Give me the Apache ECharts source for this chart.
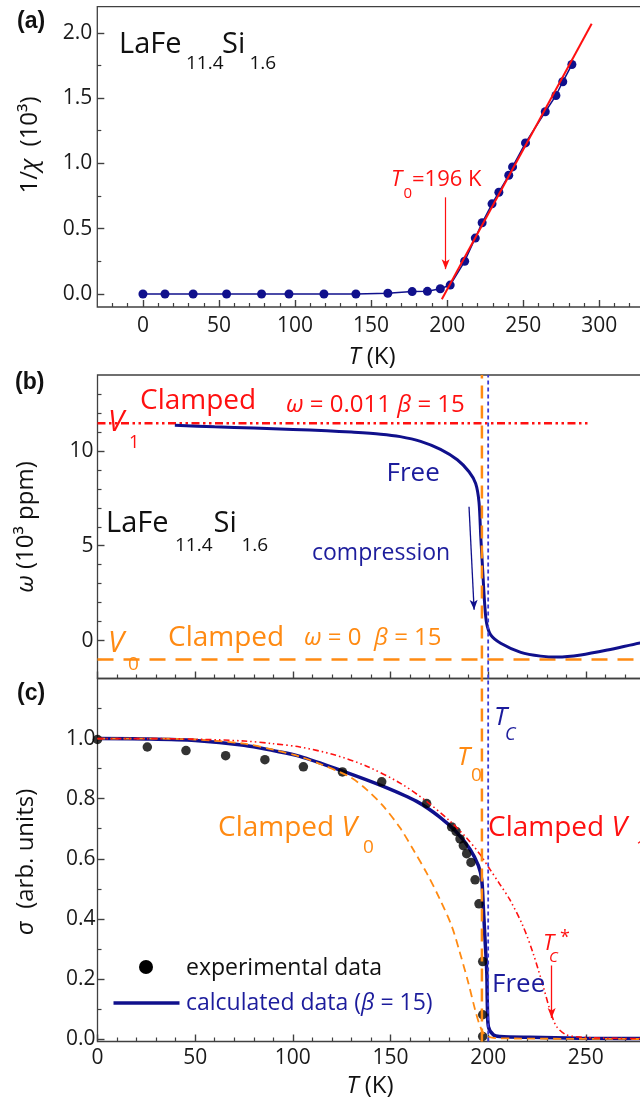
<!DOCTYPE html>
<html>
<head>
<meta charset="utf-8">
<title>LaFe11.4Si1.6</title>
<script src="https://cdn.jsdelivr.net/npm/echarts@6.0.0/dist/echarts.min.js"></script>
<style>
  html, body { margin: 0; padding: 0; background: #ffffff; }
  #chart { width: 640px; height: 1106px; }
</style>
</head>
<body>
<div id="chart"></div>
<script>
// ---------- (a) inverse susceptibility ----------
const chiTemp = [0, 14.5, 33, 55, 78, 96, 119, 140, 161, 177, 187, 195.5, 202, 211.5, 218.5, 223, 229.5, 234, 240.5, 243, 251.5, 264.5, 271.5, 276, 282];
const chiInv  = [0, 0, 0, 0, 0, 0, 0, 0, 0.005, 0.018, 0.02, 0.04, 0.068, 0.25, 0.428, 0.545, 0.69, 0.779, 0.909, 0.973, 1.157, 1.395, 1.52, 1.625, 1.757];
const fitTemp = [196.5, 295];
const fitInv  = [-0.04, 2.07];
const t0ArrowTemp = 199;
const t0ArrowInv  = [0.74, 0.19];

// ---------- (b) volume strain ----------
const omegaTemp = [39.6, 60, 80, 100, 117.4, 130, 145, 155, 165.4, 175.6, 184.2, 190.2, 193.6, 195.3, 196.2, 197.2, 198.2, 199.2, 201.3, 206.4, 216.7, 226.9, 235.5, 247.4, 261.1, 278, 290];
const omegaFree = [11.35, 11.27, 11.2, 11.13, 11.06, 10.99, 10.88, 10.75, 10.5, 10.08, 9.53, 8.9, 8.28, 7.3, 5.5, 3.7, 1.95, 0.92, 0.30, -0.14, -0.62, -0.82, -0.87, -0.76, -0.5, -0.12, 0.1];
const clampedV1Temp  = [0, 252];
const clampedV1Omega = [11.45, 11.45];
const clampedV0Temp  = [0, 300];
const clampedV0Omega = [-1.0, -1.0];
const compressionTemp  = [190.2, 192.8];
const compressionOmega = [7.05, 1.62];
const tZero = 196.8;
const tCurie = 200;

// ---------- (c) magnetisation ----------
const expTemp  = [0, 25.5, 45.3, 65.6, 85.7, 105.4, 125.4, 145.5, 168.5, 181.3, 183.6, 185.6, 187.3, 189, 191.2, 193.3, 195.3, 197.2, 197.2, 197.2];
const expSigma = [0.997, 0.972, 0.960, 0.943, 0.930, 0.906, 0.889, 0.856, 0.784, 0.706, 0.691, 0.666, 0.644, 0.617, 0.588, 0.530, 0.450, 0.258, 0.081, 0.009];
const calcTemp  = [0, 25, 50, 75, 90, 103.6, 125.9, 146.3, 163.4, 175.4, 183.9, 190.7, 195, 196.7, 197.5, 198.4, 199.3, 199.6, 200.1, 202.7, 206, 221.3, 246.9, 300];
const calcSigma = [1.0, 0.999, 0.994, 0.978, 0.960, 0.941, 0.891, 0.841, 0.791, 0.738, 0.688, 0.632, 0.577, 0.530, 0.442, 0.331, 0.220, 0.109, 0.042, 0.014, 0.009, 0.006, 0.003, 0.001];
const sigmaV0Temp  = [0, 25, 50, 75, 90, 103.6, 115, 129.3, 137.8, 146.3, 154.9, 161.7, 168.5, 175.4, 181.4, 185.6, 189.9, 193.3, 195.9, 198.4, 202.7, 213, 240, 300];
const sigmaV0      = [1.0, 1.0, 0.997, 0.983, 0.963, 0.940, 0.913, 0.872, 0.830, 0.775, 0.703, 0.630, 0.553, 0.464, 0.375, 0.286, 0.186, 0.098, 0.042, 0.014, 0.004, 0.002, 0.001, 0];
const sigmaV1Temp  = [0, 25, 50, 75, 90, 103.6, 120.7, 137.8, 154.9, 168.5, 180.5, 189, 195.9, 201, 206, 211.1, 217.9, 223, 228.2, 231.6, 235, 240.1, 246.9, 260, 300];
const sigmaV1      = [1.0, 1.0, 0.998, 0.992, 0.983, 0.972, 0.947, 0.908, 0.852, 0.791, 0.725, 0.669, 0.614, 0.564, 0.515, 0.464, 0.375, 0.286, 0.175, 0.098, 0.042, 0.014, 0.007, 0.003, 0.001];
const tcStarTemp  = 232.5;
const tcStarSigma = [0.245, 0.07];

// ---------- tick values ----------
const xMajorA = [0, 50, 100, 150, 200, 250, 300];
const xMinorA = [-20, -10, 10, 20, 30, 40, 60, 70, 80, 90, 110, 120, 130, 140, 160, 170, 180, 190, 210, 220, 230, 240, 260, 270, 280, 290, 310, 320];
const yMajorA = [0, 0.5, 1.0, 1.5, 2.0];
const yMinorA = [0.25, 0.75, 1.25, 1.75];
const xMajorBC = [0, 50, 100, 150, 200, 250, 300];
const xMinorBC = [10, 20, 30, 40, 60, 70, 80, 90, 110, 120, 130, 140, 160, 170, 180, 190, 210, 220, 230, 240, 260, 270, 280, 290];
const yMajorB = [0, 5, 10];
const yMinorB = [-1, 1, 2, 3, 4, 6, 7, 8, 9, 11, 12, 13];
const yMajorC = [0, 0.2, 0.4, 0.6, 0.8, 1.0];
const yMinorC = [0.1, 0.3, 0.5, 0.7, 0.9, 1.1];

const FONT = '"Open Sans", "Noto Sans", sans-serif';
const NAVY = '#10108c';
const NAVY_TEXT = '#1c1c9c';
const RED = '#ff1010';
const ORANGE = '#ff8a12';
const DOTBLUE = '#3a3ad4';
const AXIS = '#404040';
const SMOOTH = 0.3;

function pairs(xs, ys) { return xs.map((x, i) => [x, ys[i]]); }

function mainAxis(dim, grid, min, max, ticks, showLabels, margin, fmt) {
  return {
    type: 'value', gridIndex: grid, min: min, max: max,
    position: dim === 'x' ? 'bottom' : 'left', offset: 0,
    axisLine: { show: false, onZero: false }, splitLine: { show: false },
    axisTick: { show: true, inside: true, length: 7, customValues: ticks, lineStyle: { color: AXIS, width: 1.4 } },
    axisLabel: { show: showLabels, customValues: ticks, margin: margin, fontSize: 21, fontFamily: FONT, color: '#1a1a1a', formatter: fmt }
  };
}
function minorAxis(dim, grid, min, max, ticks) {
  return {
    type: 'value', gridIndex: grid, min: min, max: max,
    position: dim === 'x' ? 'bottom' : 'left', offset: 0,
    axisLine: { show: false, onZero: false }, splitLine: { show: false },
    axisTick: { show: true, inside: true, length: 4, customValues: ticks, lineStyle: { color: AXIS, width: 1.2 } },
    axisLabel: { show: false }
  };
}
const oneDecimal = v => v.toFixed(1);

function gridBox(left, top, width, height) {
  return { left: left, top: top, width: width, height: height, show: true, borderColor: AXIS, borderWidth: 1.3,
           backgroundColor: 'transparent', containLabel: false, outerBoundsMode: 'none' };
}

function curve(xi, yi, data, color, width, type, z, extra) {
  return Object.assign({
    type: 'line', xAxisIndex: xi, yAxisIndex: yi, data: data, symbol: 'none', silent: true,
    lineStyle: { color: color, width: width, type: type }, z: z
  }, extra || {});
}

function arrow(x, y0, y1, x1) {
  return [[{ coord: [x, y0] }, { coord: [x1 === undefined ? x : x1, y1] }]];
}

function markArrow(color, width, data) {
  return {
    silent: true, symbol: ['none', 'arrow'], symbolSize: [6, 10],
    label: { show: false }, emphasis: { disabled: true },
    lineStyle: { color: color, width: width, type: 'solid' },
    data: data
  };
}

// text helper: x,y is the left (or centre) / visual middle of the text
function txt(x, y, text, size, color, opts) {
  opts = opts || {};
  const family = opts.family || FONT;
  const style = {
    text: text, fontSize: size, fontFamily: family, fill: color,
    fontStyle: opts.italic ? 'italic' : 'normal',
    fontWeight: opts.bold ? 'bold' : 'normal',
    align: opts.align || 'left', verticalAlign: 'middle',
    rich: {
      i: { fontSize: size, fontFamily: family, fontStyle: 'italic', fill: color },
      n: { fontSize: size, fontFamily: family, fontStyle: 'normal', fill: color }
    }
  };
  const el = { type: 'text', x: x, y: y, silent: true, z: 100, style: style };
  if (opts.rotation) el.rotation = opts.rotation;
  return el;
}

const texts = [
  // (a)
  txt(17, 22, '(a)', 23, '#111', { bold: true, family: '"Liberation Sans", Arial, sans-serif' }),
  txt(119, 44.5, 'LaFe', 29, '#111'),
  txt(186, 63.5, '11.4', 19, '#111'),
  txt(222, 44.5, 'Si', 29, '#111'),
  txt(249.5, 63.5, '1.6', 19, '#111'),
  txt(391, 180, 'T', 22, RED, { italic: true }),
  txt(403.5, 194, '0', 15, RED),
  txt(412, 180, '=196 K', 22, RED),
  txt(30, 145, '1/{i|χ}  (10³)', 24, '#111', { align: 'center', rotation: Math.PI / 2 }),
  txt(372, 357, '{i|T} (K)', 24, '#111', { align: 'center' }),

  // (b)
  txt(15, 383, '(b)', 23, '#111', { bold: true, family: '"Liberation Sans", Arial, sans-serif' }),
  txt(108, 422.5, 'V', 29, RED, { italic: true }),
  txt(129, 443, '1', 18, RED),
  txt(140, 401.5, 'Clamped', 28, RED),
  txt(286, 405, '{i|ω} = 0.011 {i|β} = 15', 24, RED),
  txt(106, 524, 'LaFe', 29, '#111'),
  txt(175, 545.5, '11.4', 19, '#111'),
  txt(213.5, 524, 'Si', 29, '#111'),
  txt(241.5, 545.5, '1.6', 19, '#111'),
  txt(386.5, 474, 'Free', 26, NAVY_TEXT),
  txt(312, 553, 'compression', 23, NAVY_TEXT),
  txt(108, 643.5, 'V', 29, ORANGE, { italic: true }),
  txt(128, 664.5, '0', 19, ORANGE),
  txt(168, 638, 'Clamped', 28, ORANGE),
  txt(304, 638, '{i|ω} = 0  {i|β} = 15', 24, ORANGE),
  txt(26.5, 527, '{i|ω} (10³ ppm)', 24, '#111', { align: 'center', rotation: Math.PI / 2 }),

  // (c)
  txt(17, 694, '(c)', 23, '#111', { bold: true, family: '"Liberation Sans", Arial, sans-serif' }),
  txt(494, 717.5, 'T', 26, NAVY_TEXT, { italic: true }),
  txt(505, 735, 'C', 18, NAVY_TEXT, { italic: true }),
  txt(457, 757.5, 'T', 26, ORANGE, { italic: true }),
  txt(471, 776, '0', 19, ORANGE),
  txt(218, 828, 'Clamped {i|V}', 28, ORANGE),
  txt(363, 847.5, '0', 19, ORANGE),
  txt(488, 828, 'Clamped {i|V}', 28, RED),
  txt(636, 848, '1', 19, RED),
  txt(543, 943.5, 'T', 22, RED, { italic: true }),
  txt(549, 958, 'C', 15, RED, { italic: true }),
  txt(560, 938, '*', 18, RED),
  txt(492, 985, 'Free', 26, NAVY_TEXT),
  txt(186, 968, 'experimental data', 23, '#111'),
  txt(186, 1003, 'calculated data ({i|β} = 15)', 23, NAVY_TEXT),
  txt(26, 862, '{i|σ}  (arb. units)', 24, '#111', { align: 'center', rotation: Math.PI / 2 }),
  txt(370, 1086, '{i|T} (K)', 24, '#111', { align: 'center' }),

  // legend keys
  { type: 'circle', silent: true, z: 100, shape: { cx: 146, cy: 967, r: 7 }, style: { fill: '#000' } },
  { type: 'line', silent: true, z: 100, shape: { x1: 113.5, y1: 1003, x2: 179.5, y2: 1003 }, style: { stroke: NAVY, lineWidth: 3.5 } }
];

const chart = echarts.init(document.getElementById('chart'), null, { renderer: 'canvas' });

chart.setOption({
  animation: false,
  backgroundColor: '#ffffff',
  grid: [
    gridBox(97.3, 6.7, 547.6, 300.3),
    gridBox(97.5, 375, 586, 303.5),
    gridBox(97.5, 678.5, 586, 363)
  ],
  xAxis: [
    mainAxis('x', 0, -30, 330, xMajorA, true, 9),
    minorAxis('x', 0, -30, 330, xMinorA),
    mainAxis('x', 1, 0, 300, xMajorBC, false, 8),
    minorAxis('x', 1, 0, 300, xMinorBC),
    mainAxis('x', 2, 0, 300, xMajorBC, true, 6),
    minorAxis('x', 2, 0, 300, xMinorBC)
  ],
  yAxis: [
    mainAxis('y', 0, -0.1, 2.2, yMajorA, true, 5, oneDecimal),
    minorAxis('y', 0, -0.1, 2.2, yMinorA),
    mainAxis('y', 1, -2, 14, yMajorB, true, 4),
    minorAxis('y', 1, -2, 14, yMinorB),
    mainAxis('y', 2, -0.008, 1.2, yMajorC, true, 2, oneDecimal),
    minorAxis('y', 2, -0.008, 1.2, yMinorC)
  ],
  series: [
    // (a)
    {
      type: 'line', xAxisIndex: 0, yAxisIndex: 0, data: pairs(chiTemp, chiInv), silent: true,
      symbol: 'circle', symbolSize: 9, lineStyle: { color: NAVY, width: 1.5 }, itemStyle: { color: NAVY }, z: 3
    },
    curve(0, 0, pairs(fitTemp, fitInv), RED, 2, 'solid', 4, {
      markLine: markArrow(RED, 1.2, arrow(t0ArrowTemp, t0ArrowInv[0], t0ArrowInv[1]))
    }),

    // (b)
    curve(2, 2, pairs(clampedV1Temp, clampedV1Omega), RED, 2.5, [8, 3.5, 2.5, 3.5, 2.5, 3.5], 3),
    curve(2, 2, pairs(clampedV0Temp, clampedV0Omega), ORANGE, 2.5, [16, 10], 3),
    curve(2, 2, pairs(omegaTemp, omegaFree), NAVY, 3, 'solid', 4, {
      smooth: SMOOTH,
      markLine: markArrow(NAVY, 1.3, arrow(compressionTemp[0], compressionOmega[0], compressionOmega[1], compressionTemp[1]))
    }),
    curve(2, 2, [[tZero, -2], [tZero, 14]], ORANGE, 2.5, [13, 7], 5),
    curve(2, 2, [[tCurie, -2], [tCurie, 14]], DOTBLUE, 1.8, [4, 3], 5),

    // (c)
    curve(4, 4, pairs(calcTemp, calcSigma), NAVY, 3.5, 'solid', 3, { smooth: SMOOTH }),
    {
      type: 'scatter', xAxisIndex: 4, yAxisIndex: 4, data: pairs(expTemp, expSigma), silent: true,
      symbol: 'circle', symbolSize: 9.5, itemStyle: { color: '#000' }, z: 4
    },
    curve(4, 4, pairs(sigmaV0Temp, sigmaV0), ORANGE, 1.8, [8, 5], 5, { smooth: SMOOTH }),
    curve(4, 4, pairs(sigmaV1Temp, sigmaV1), RED, 1.6, [6, 3, 1.5, 3, 1.5, 3], 5, {
      smooth: SMOOTH,
      markLine: markArrow(RED, 1.3, arrow(tcStarTemp, tcStarSigma[0], tcStarSigma[1]))
    }),
    curve(4, 4, [[tZero, -0.008], [tZero, 1.2]], ORANGE, 2.5, [13, 7], 6),
    curve(4, 4, [[tCurie, -0.008], [tCurie, 1.2]], DOTBLUE, 1.8, [4, 3], 6)
  ],
  graphic: texts
});
</script>
</body>
</html>
